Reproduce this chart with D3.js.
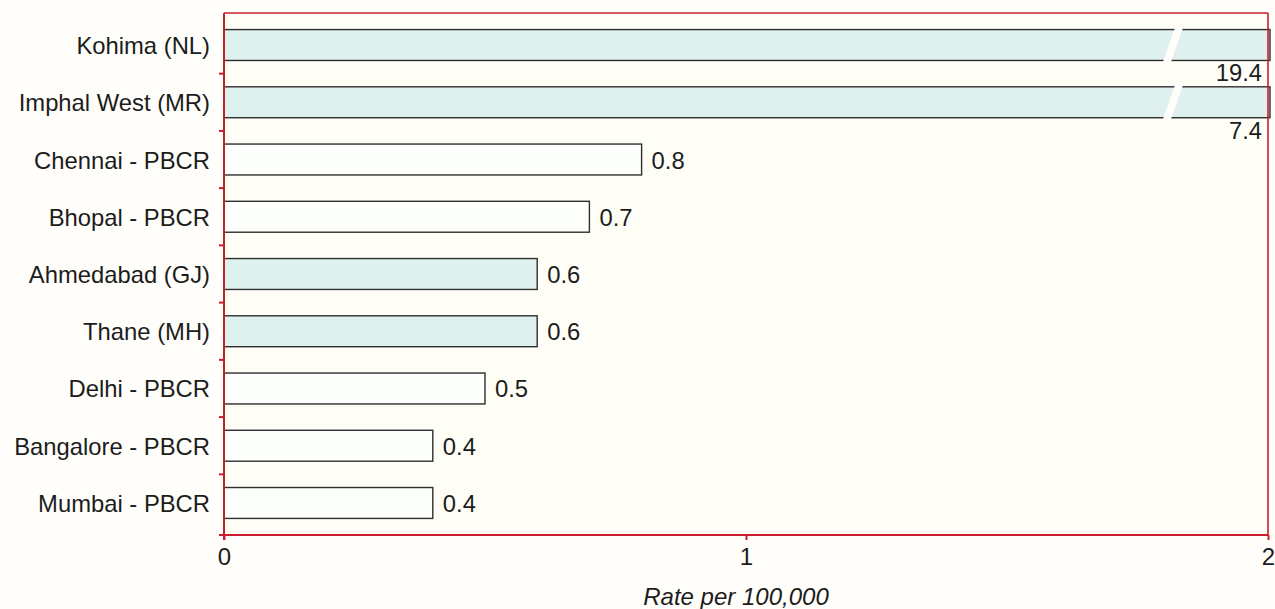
<!DOCTYPE html>
<html>
<head>
<meta charset="utf-8">
<script src="https://cdn.jsdelivr.net/npm/d3@7"></script>
<style>
  html, body { margin: 0; padding: 0; background: #fffefa; }
  svg { display: block; }
  text { font-family: "Liberation Sans", Arial, Helvetica, sans-serif; fill: #1c1c1c; }
</style>
</head>
<body>
<svg id="chart" width="1275" height="609"></svg>
<script>
// ---- data ----
const categories = ["Kohima (NL)", "Imphal West (MR)", "Chennai - PBCR", "Bhopal - PBCR",
  "Ahmedabad (GJ)", "Thane (MH)", "Delhi - PBCR", "Bangalore - PBCR", "Mumbai - PBCR"];
const values = [19.4, 7.4, 0.8, 0.7, 0.6, 0.6, 0.5, 0.4, 0.4];
const valueLabels = ["19.4", "7.4", "0.8", "0.7", "0.6", "0.6", "0.5", "0.4", "0.4"];
const highlighted = [true, true, false, false, true, true, false, false, false];
const xTicks = [0, 1, 2];
const xTickLabels = ["0", "1", "2"];
const axisTitle = "Rate per 100,000";
const xMax = 2;
const breakAt = 1.815;

// ---- layout ----
const svg = d3.select("#chart");
const mLeft = 224, mRight = 1268, mTop = 13, mBottom = 535;
const red = "#c81d2c";
const fs = 23.8;

const x = d3.scaleLinear().domain([0, xMax]).range([mLeft, mRight]);
const y = d3.scaleBand().domain(categories).range([16.4, 531.6])
  .paddingInner(0.46).paddingOuter(0.23);

// plot background
svg.append("rect").attr("x", mLeft).attr("y", mTop).attr("width", mRight - mLeft).attr("height", mBottom - mTop)
  .attr("fill", "#fffef6");

const data = categories.map((c, i) => ({ c, v: values[i], lab: valueLabels[i], hi: highlighted[i] }));

// bars
svg.selectAll("rect.bar").data(data).join("rect")
  .attr("class", "bar")
  .attr("x", x(0))
  .attr("y", d => y(d.c))
  .attr("width", d => x(Math.min(d.v, xMax)) - x(0) + (d.v > xMax ? 2 : 0))
  .attr("height", y.bandwidth())
  .attr("fill", d => d.hi ? "#dff1ee" : "#fdfffc")
  .attr("stroke", "#2e2e2e")
  .attr("stroke-width", 1.4);

// break marks for values beyond axis
const broken = data.filter(d => d.v > xMax);
svg.selectAll("path.brk").data(broken).join("path")
  .attr("class", "brk")
  .attr("d", d => {
    const y0 = y(d.c) - 3, y1 = y(d.c) + y.bandwidth() + 3;
    const xb = x(breakAt);
    return `M${xb + 4},${y0} L${xb + 12},${y0} L${xb - 1},${y1} L${xb - 9},${y1} Z`;
  })
  .attr("fill", "#fffefa");

// value labels
svg.selectAll("text.val").data(data).join("text")
  .attr("class", "val")
  .attr("x", d => d.v > xMax ? x(xMax) - 6 : x(d.v) + 10)
  .attr("y", d => d.v > xMax ? y(d.c) + y.bandwidth() + 21 : y(d.c) + y.bandwidth() / 2 + 9)
  .attr("text-anchor", d => d.v > xMax ? "end" : "start")
  .attr("font-size", fs)
  .text(d => d.lab);

// category labels
svg.selectAll("text.cat").data(categories).join("text")
  .attr("class", "cat")
  .attr("x", 210)
  .attr("y", d => y(d) + y.bandwidth() / 2 + 9)
  .attr("text-anchor", "end")
  .attr("font-size", fs)
  .text(d => d);

// frame: top & right
svg.append("line").attr("x1", mLeft).attr("x2", mRight).attr("y1", mTop).attr("y2", mTop)
  .attr("stroke", red).attr("stroke-width", 1.6);
svg.append("line").attr("x1", mRight).attr("x2", mRight).attr("y1", mTop).attr("y2", mBottom)
  .attr("stroke", red).attr("stroke-width", 1.6);

// left axis (ticks at band boundaries)
const bounds = categories.slice(1).map(c => y(c) - y.step() * y.paddingInner() / 2);
svg.append("line").attr("x1", mLeft).attr("x2", mLeft).attr("y1", mTop).attr("y2", mBottom + 5)
  .attr("stroke", red).attr("stroke-width", 2);
svg.selectAll("line.ytick").data(bounds).join("line")
  .attr("class", "ytick")
  .attr("x1", mLeft - 5).attr("x2", mLeft).attr("y1", d => d).attr("y2", d => d)
  .attr("stroke", red).attr("stroke-width", 2);

// bottom axis
const xAxis = svg.append("g").attr("transform", `translate(0,${mBottom})`)
  .call(d3.axisBottom(x).tickValues(xTicks).tickFormat((d, i) => xTickLabels[i]).tickSize(5).tickPadding(8));
xAxis.select(".domain").attr("stroke", red).attr("stroke-width", 2).attr("d", `M${mLeft - 5},0H${mRight}`);
xAxis.selectAll(".tick line").attr("stroke", red).attr("stroke-width", 2);
xAxis.selectAll(".tick text").attr("font-size", 24).attr("fill", "#1c1c1c")
  .attr("font-family", "'Liberation Sans', Arial, sans-serif");

// axis title
svg.append("text")
  .attr("x", x(1) - 10).attr("y", 605)
  .attr("text-anchor", "middle")
  .attr("font-size", 24)
  .attr("font-style", "italic")
  .text(axisTitle);
</script>
</body>
</html>
